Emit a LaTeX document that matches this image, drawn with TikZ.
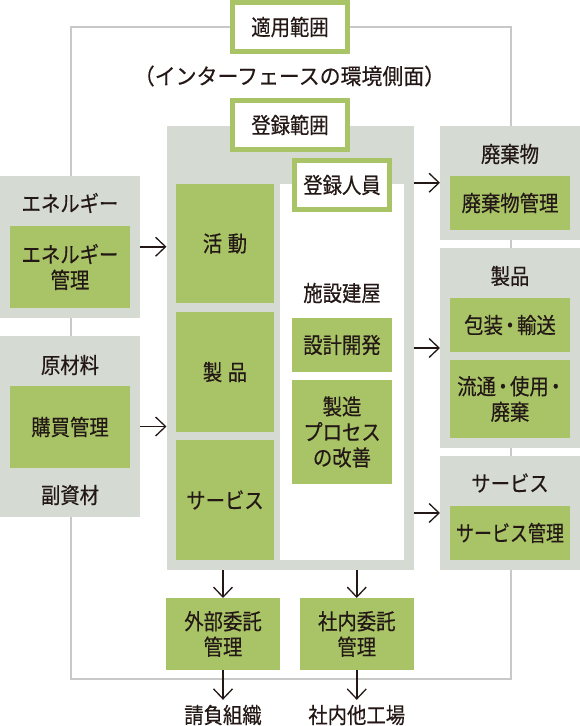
\documentclass[tikz,border=0pt]{standalone}
\usepackage{fontspec}
\setmainfont{Noto Sans CJK JP}[FakeStretch=0.88,FakeBold=0.4]
\usetikzlibrary{arrows.meta}
\definecolor{grn}{HTML}{A9C467}
\definecolor{gry}{HTML}{D5DBD2}
\definecolor{lin}{HTML}{C8C8C8}
\definecolor{ink}{HTML}{231815}
\newcommand\nkdot{\kern-0.12em・\kern-0.12em}
\begin{document}
\begin{tikzpicture}[x=1pt,y=-1pt,
  every node/.style={inner sep=0pt,outer sep=0pt,text=ink,font=\fontsize{22}{25.5}\selectfont,align=center},
  graybox/.style={fill=gry},
  greenbox/.style={fill=grn},
  whitebox/.style={fill=white},
  framebox/.style={fill=white,draw=grn,line width=5pt},
  arr/.style={draw=ink,line width=1.8pt,-{Straight Barb[length=10pt,width=19pt,line width=1.3pt]}},
  outline/.style={draw=lin,line width=1.6pt}]
\useasboundingbox (0,0) rectangle (580,726);
% outer frame line
\coordinate (olt) at (71,26.7);
\coordinate (orb) at (511,678.7);
\draw[outline] (olt) rectangle (orb);
% gray boxes
\node[graybox,minimum width=247pt,minimum height=444pt] (center) at (290,348) {};
\node[graybox,minimum width=140pt,minimum height=141.5pt] (eneg) at (70,246.75) {};
\node[graybox,minimum width=140pt,minimum height=181pt] (genzai) at (70,426.5) {};
\node[graybox,minimum width=140pt,minimum height=113.5pt] (haiki) at (510,182.75) {};
\node[graybox,minimum width=140pt,minimum height=200pt] (seihinR) at (510,348) {};
\node[graybox,minimum width=140pt,minimum height=114pt] (serviceR) at (510,513) {};
% green boxes in center
\node[greenbox,minimum width=98pt,minimum height=119pt] (katsudo) at (225,243.5) {活\hspace{0.25em}動};
\node[greenbox,minimum width=98pt,minimum height=120pt] (seihinL) at (225,372) {製\hspace{0.25em}品};
\node[greenbox,minimum width=98pt,minimum height=120pt] (serviceL) at (225,500) {サービス};
\node[whitebox,minimum width=124pt,minimum height=376pt] (white) at (342,372) {};
\node (shisetsu) at (342,293) {施設建屋};
\node[greenbox,minimum width=100pt,minimum height=54pt] (sekkei) at (342,345) {設計開発};
\node[greenbox,minimum width=100pt,minimum height=104pt] (seizo) at (342,432) {製造\\プロセス\\の改善};
% left
\node (enegL) at (70,203) {エネルギー};
\node[greenbox,minimum width=120pt,minimum height=82pt] (enegK) at (70,267) {エネルギー\\管理};
\node (genzaiL) at (70,365) {原材料};
\node[greenbox,minimum width=120pt,minimum height=82pt] (kobai) at (70,427) {購買管理};
\node (fukuL) at (70,495) {副資材};
% right
\node (haikiL) at (510,154) {廃棄物};
\node[greenbox,minimum width=120pt,minimum height=54pt] (haikiK) at (510,203) {廃棄物管理};
\node (seihinRL) at (510,276) {製品};
\node[greenbox,minimum width=120pt,minimum height=54pt] (hoso) at (510,325) {包装\nkdot 輸送};
\node[greenbox,minimum width=120pt,minimum height=78pt] (ryutsu) at (510,399) {流通\nkdot 使用\nkdot\\廃棄};
\node (serviceRL) at (510,483) {サービス};
\node[greenbox,minimum width=120pt,minimum height=54pt] (serviceK) at (510,533) {\scalebox{0.93}[1]{サービス管理}};
% bottom
\node[greenbox,minimum width=114pt,minimum height=72pt] (gaibu) at (223,634) {外部委託\\管理};
\node[greenbox,minimum width=113.5pt,minimum height=72pt] (shanai) at (356.75,634) {社内委託\\管理};
\node (ukeoi) at (223,715) {請負組織};
\node (tako) at (356.75,715) {社内他工場};
% frames
\node[framebox,minimum width=115pt,minimum height=49pt] (tekiyo) at (290,27) {適用範囲};
\node (iface) at (289.5,76) {\scalebox{1.08}[1]{（インターフェースの環境側面）}};
\node[framebox,minimum width=115pt,minimum height=49pt] (toroku) at (290,125) {登録範囲};
\node[framebox,minimum width=95pt,minimum height=49pt] (jinin) at (342,185) {登録人員};
% arrows
\draw[arr] (eneg.east) -- (eneg.east -| center.west);
\draw[arr] (genzai.east) -- (genzai.east -| center.west);
\draw[arr] (center.east |- haiki.west) -- (haiki.west);
\draw[arr] (center.east |- seihinR.west) -- (seihinR.west);
\draw[arr] (center.east |- serviceR.west) -- (serviceR.west);
\draw[arr] (gaibu.north |- center.south) -- (gaibu.north);
\draw[arr] (shanai.north |- center.south) -- (shanai.north);
\draw[arr,shorten >=5pt] (gaibu.south) -- (ukeoi.north);
\draw[arr,shorten >=5pt] (shanai.south) -- (tako.north);
\end{tikzpicture}
\end{document}
